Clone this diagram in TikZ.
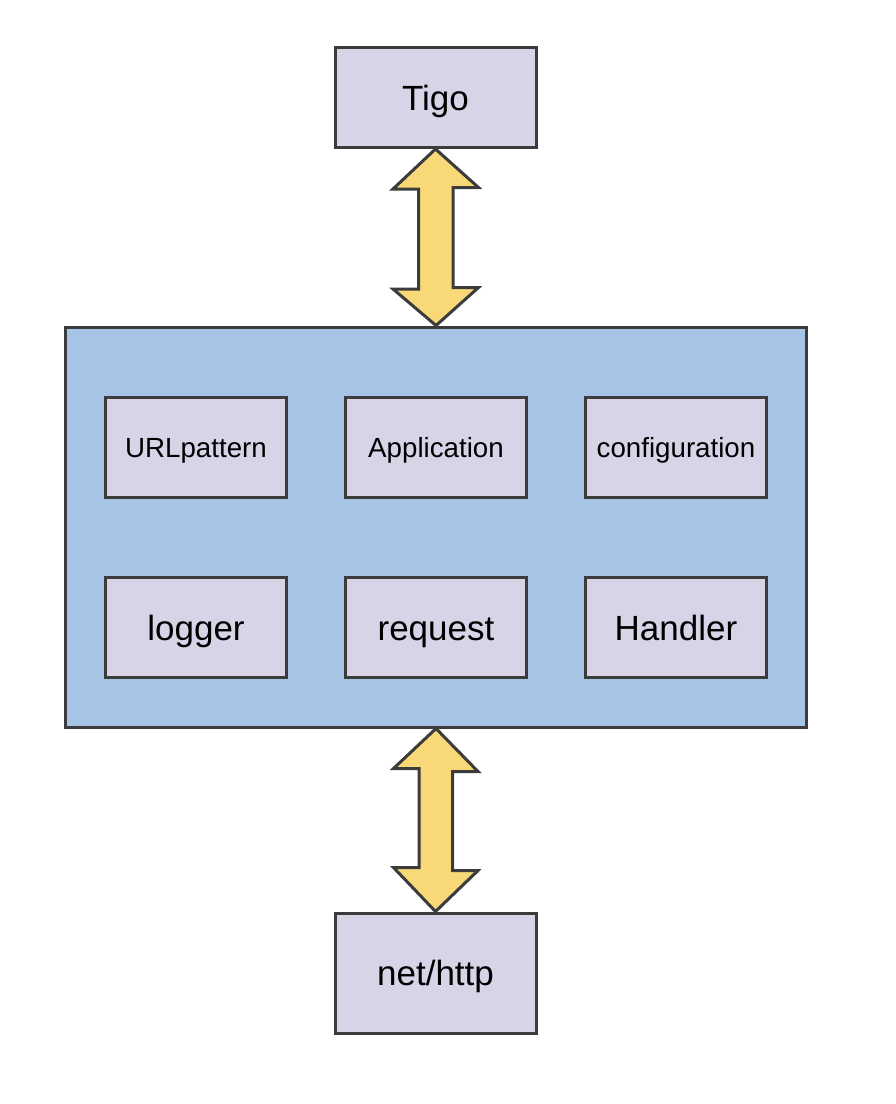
\documentclass[tikz,border=0pt]{standalone}
\usepackage{fontspec}
\setmainfont{Liberation Sans}
\usetikzlibrary{calc}
\definecolor{lav}{HTML}{D9D3E8}
\definecolor{bluebg}{HTML}{A6C4E6}
\definecolor{yel}{HTML}{F9D878}
\definecolor{edge}{HTML}{3C3C3C}
\tikzset{
  box/.style={draw=edge, line width=3pt, fill=lav, rectangle, inner sep=0pt,
    minimum width=181pt, minimum height=100pt, font=\fontsize{35}{42}\selectfont,
    text height=25pt, text depth=0pt},
  smalltext/.style={font=\fontsize{27.7}{33}\selectfont, text height=19.8pt, text depth=0pt},
  panel/.style={draw=edge, line width=3pt, fill=bluebg, rectangle, inner sep=0pt},
  dblarrow/.style={draw=edge, line width=3pt, fill=yel, line join=miter}
}
\begin{document}
\begin{tikzpicture}[x=1pt,y=-1pt]
\useasboundingbox (0,0) rectangle (896,1104);
\node[box, minimum width=201pt] (tigo) at (435.5,97.5) {Tigo};
\node[panel, minimum width=741pt, minimum height=400pt] (main) at (436,527) {};
\node[box, smalltext] (url) at (196,447.5) {URLpattern};
\node[box, smalltext] (app) at (436,447.5) {Application};
\node[box, smalltext] (conf) at (676,447.5) {configuration};
\node[box] (logger) at (196,627.5) {logger};
\node[box] (req) at (436,627.5) {request};
\node[box] (hand) at (676,627.5) {Handler};
\node[box, minimum width=201pt, minimum height=120pt] (net) at (435.5,973) {net/http};
% upper double arrow
\draw[dblarrow] (tigo.south)
  -- ++(-42.5,40) -- ++(25.5,0) -- ++(0,100) -- ++(-25.5,0)
  -- (main.north)
  -- ++(42.5,-38) -- ++(-25.5,0) -- ++(0,-100) -- ++(25.5,0) -- cycle;
% lower double arrow
\draw[dblarrow] (main.south)
  -- ++(-42.5,40) -- ++(25.5,0) -- ++(0,99) -- ++(-25.5,0)
  -- (net.north)
  -- ++(42.5,-41) -- ++(-25.5,0) -- ++(0,-99) -- ++(25.5,0) -- cycle;
\end{tikzpicture}
\end{document}
